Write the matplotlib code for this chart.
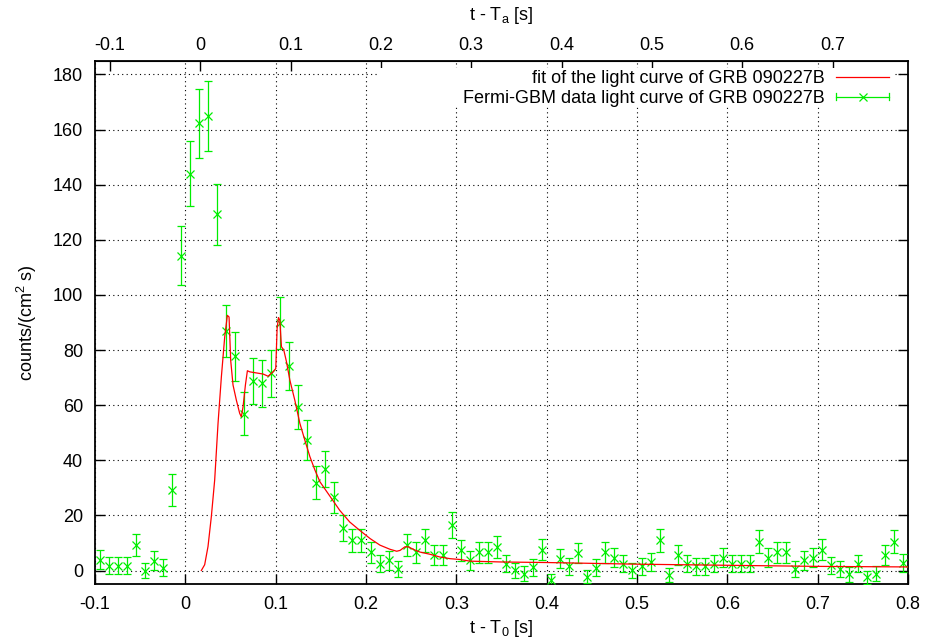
import numpy as np
import matplotlib
matplotlib.use("Agg")
import matplotlib.pyplot as plt
from matplotlib.lines import Line2D
from matplotlib.patches import Rectangle
from matplotlib.legend_handler import HandlerBase
from matplotlib.container import ErrorbarContainer

plt.rcParams['font.family'] = ['Liberation Sans', 'DejaVu Sans']
plt.rcParams['mathtext.fontset'] = 'custom'
plt.rcParams['mathtext.rm'] = 'Liberation Sans'
plt.rcParams['mathtext.it'] = 'Liberation Sans'

# ---------------- data ----------------
t_data = [-0.095, -0.085, -0.075, -0.065, -0.055, -0.045, -0.035, -0.025, -0.015, -0.005,
          0.005, 0.015, 0.025, 0.035, 0.045, 0.055, 0.065, 0.075, 0.085, 0.095,
          0.105, 0.115, 0.125, 0.135, 0.145, 0.155, 0.165, 0.175, 0.185, 0.195,
          0.205, 0.215, 0.225, 0.235, 0.245, 0.255, 0.265, 0.275, 0.285, 0.295,
          0.305, 0.315, 0.325, 0.335, 0.345, 0.355, 0.365, 0.375, 0.385, 0.395,
          0.405, 0.415, 0.425, 0.435, 0.445, 0.455, 0.465, 0.475, 0.485, 0.495,
          0.505, 0.515, 0.525, 0.535, 0.545, 0.555, 0.565, 0.575, 0.585, 0.595,
          0.605, 0.615, 0.625, 0.635, 0.645, 0.655, 0.665, 0.675, 0.685, 0.695,
          0.705, 0.715, 0.725, 0.735, 0.745, 0.755, 0.765, 0.775, 0.785, 0.795]
counts = [3.9, 1.8, 1.8, 1.8, 9.1, 0.0, 3.6, 1.0, 29.3, 114.3,
          144.0, 162.3, 164.9, 129.2, 87.0, 77.8, 56.8, 68.8, 67.9, 71.5,
          89.9, 74.2, 59.4, 47.3, 31.9, 36.7, 26.6, 15.5, 11.0, 11.0,
          6.7, 2.5, 3.7, 0.7, 9.2, 6.7, 11.0, 5.5, 5.5, 16.6,
          7.3, 3.7, 6.7, 6.7, 8.6, 2.5, 0.1, -1.1, 1.1, 7.6,
          -3.3, 4.3, 1.6, 6.4, -2.3, 1.0, 6.7, 4.7, 2.5, 0.1,
          1.6, 3.1, 11.0, -1.7, 5.5, 2.5, 1.6, 1.6, 2.5, 4.7,
          2.5, 2.5, 2.5, 10.4, 4.6, 6.7, 6.7, 0.7, 3.7, 4.6,
          7.6, 1.9, 0.7, -1.4, 2.5, -2.5, -1.1, 5.5, 10.4, 2.8]
errors = [3.4, 3.1, 3.1, 3.1, 4.0, 2.8, 3.4, 3.0, 5.9, 10.6,
          11.8, 12.6, 12.6, 11.2, 9.4, 8.9, 7.8, 8.4, 8.4, 8.6,
          9.5, 8.7, 7.9, 7.2, 6.1, 6.5, 5.7, 4.7, 4.2, 4.2,
          3.8, 3.2, 3.4, 2.9, 4.1, 3.8, 4.2, 3.6, 3.6, 4.8,
          3.8, 3.4, 3.8, 3.8, 4.0, 3.2, 2.8, 2.6, 3.0, 3.9,
          2.2, 3.5, 3.1, 3.7, 2.4, 3.0, 3.8, 3.5, 3.2, 2.8,
          3.1, 3.3, 4.2, 2.5, 3.6, 3.2, 3.1, 3.1, 3.2, 3.5,
          3.2, 3.2, 3.2, 4.2, 3.5, 3.8, 3.8, 2.9, 3.4, 3.5,
          3.9, 3.1, 2.9, 2.6, 3.2, 2.4, 2.6, 3.6, 4.2, 3.3]

t_fit = [0.0177, 0.0214, 0.0251, 0.0288, 0.0325, 0.0362, 0.0399, 0.0436, 0.0465, 0.0484,
         0.0502, 0.0528, 0.0565, 0.0602, 0.0620, 0.0639, 0.0665, 0.0687, 0.0713, 0.0787,
         0.0861, 0.0916, 0.0971, 0.1001, 0.1016, 0.1031, 0.1046, 0.1064, 0.1090, 0.1120,
         0.1157, 0.1212, 0.1268, 0.1323, 0.1379, 0.1434, 0.1490, 0.1600, 0.1710, 0.1820,
         0.1930, 0.2045, 0.2155, 0.2266, 0.2340, 0.2377, 0.2431, 0.2468, 0.2523, 0.2597,
         0.2708, 0.2819, 0.2930, 0.3041, 0.3152, 0.35, 0.40, 0.45, 0.50, 0.55,
         0.60, 0.65, 0.70, 0.75, 0.80]
fit_vals = [0.0, 2.1, 8.7, 19.6, 32.9, 53.4, 70.3, 84.8, 92.6, 92.0,
            76.3, 67.3, 61.8, 57.0, 55.8, 59.4, 67.3, 72.5, 72.1, 71.7,
            71.3, 70.5, 72.1, 73.3, 87.8, 91.8, 90.8, 81.2, 80.0, 75.7,
            69.1, 61.8, 53.4, 47.3, 41.3, 36.5, 32.2, 27.0, 21.8, 17.6,
            14.6, 11.6, 9.2, 7.7, 7.0, 7.3, 8.6, 8.6, 7.7, 6.7,
            5.9, 4.9, 4.3, 4.0, 3.4, 3.1, 2.9, 2.6, 2.3, 2.1,
            1.9, 1.7, 1.5, 1.4, 1.3]

T_OFFSET = 0.0165   # T_a - T_0
xticks_bottom = [-0.1, 0.0, 0.1, 0.2, 0.3, 0.4, 0.5, 0.6, 0.7, 0.8]
xticklabels_bottom = ['-0.1', '0', '0.1', '0.2', '0.3', '0.4', '0.5', '0.6', '0.7', '0.8']
xticks_top = [-0.1, 0.0, 0.1, 0.2, 0.3, 0.4, 0.5, 0.6, 0.7]
xticklabels_top = ['-0.1', '0', '0.1', '0.2', '0.3', '0.4', '0.5', '0.6', '0.7']
yticks = [0, 20, 40, 60, 80, 100, 120, 140, 160, 180]

label_fit = 'fit of the light curve of GRB 090227B'
label_data = 'Fermi-GBM data light curve of GRB 090227B'

RED = '#ff0000'
GREEN = '#00ee00'
FS = 13

# ---------------- figure ----------------
fig = plt.figure(figsize=(9.26, 6.39), dpi=100)
ax = fig.add_axes([95/926, 1 - 584.3/639, 813/926, 523.6/639])

eb = ax.errorbar(t_data, counts, yerr=errors, fmt='x', color=GREEN, ecolor=GREEN,
                 markersize=6, markeredgewidth=0.9, elinewidth=0.9, capsize=3,
                 capthick=0.9, label=label_data, zorder=3)
fit_line, = ax.plot(t_fit, fit_vals, color=RED, lw=0.9, label=label_fit, zorder=4)

ax.set_xlim(-0.1, 0.8)
ax.set_ylim(-5, 185)
ax.set_xticks(xticks_bottom)
ax.set_xticklabels(xticklabels_bottom)
ax.set_yticks(yticks)
ax.set_yticklabels([str(v) for v in yticks])
ax.tick_params(axis='both', direction='in', length=7, width=1, labelsize=FS, pad=8.5)
ax.tick_params(axis='y', right=True)
ax.tick_params(axis='x', top=False)
for s in ax.spines.values():
    s.set_linewidth(1.3)

ax.grid(True, color='black', linestyle=(0, (1, 3)), linewidth=0.8)

secax = ax.secondary_xaxis('top', functions=(lambda t: t - T_OFFSET, lambda t: t + T_OFFSET))
secax.set_xticks(xticks_top)
secax.set_xticklabels(xticklabels_top)
secax.tick_params(direction='in', length=7, width=1, labelsize=FS, pad=5)
secax.set_xlabel('t - T$_\\mathregular{a}$ [s]', fontsize=FS, labelpad=12)

ax.set_xlabel('t - T$_\\mathregular{0}$ [s]', fontsize=FS, labelpad=3.5)
ax.set_ylabel('counts/(cm$^\\mathregular{2}$ s)', fontsize=FS, labelpad=10)

# opaque key box (gnuplot style) hiding the grid behind the key
key_box = Rectangle((0.348, 0.915), 0.9815 - 0.348, 0.986 - 0.915,
                    transform=ax.transAxes, facecolor='white', edgecolor='none',
                    zorder=2.6)
ax.add_patch(key_box)


class GnuplotErrHandler(HandlerBase):
    def create_artists(self, legend, orig_handle, xdescent, ydescent, width, height,
                       fontsize, trans):
        y = height / 2 - ydescent
        x0 = -xdescent
        x1 = -xdescent + width
        c = height * 0.28
        arts = [
            Line2D([x0, x1], [y, y], color=GREEN, lw=0.9),
            Line2D([x0, x0], [y - c, y + c], color=GREEN, lw=0.9),
            Line2D([x1, x1], [y - c, y + c], color=GREEN, lw=0.9),
            Line2D([(x0 + x1) / 2], [y], marker='x', markersize=6, markeredgewidth=0.9,
                   color=GREEN, linestyle='none'),
        ]
        for a in arts:
            a.set_transform(trans)
        return arts


leg = ax.legend([fit_line, eb], [label_fit, label_data], loc='upper right',
                bbox_to_anchor=(0.982, 0.99), fontsize=FS, markerfirst=False,
                frameon=False, borderpad=0.25, borderaxespad=0,
                handlelength=2.9, handletextpad=0.65, labelspacing=0.15,
                handler_map={ErrorbarContainer: GnuplotErrHandler()})
leg.set_zorder(5)

fig.savefig('out.png', dpi=100)
